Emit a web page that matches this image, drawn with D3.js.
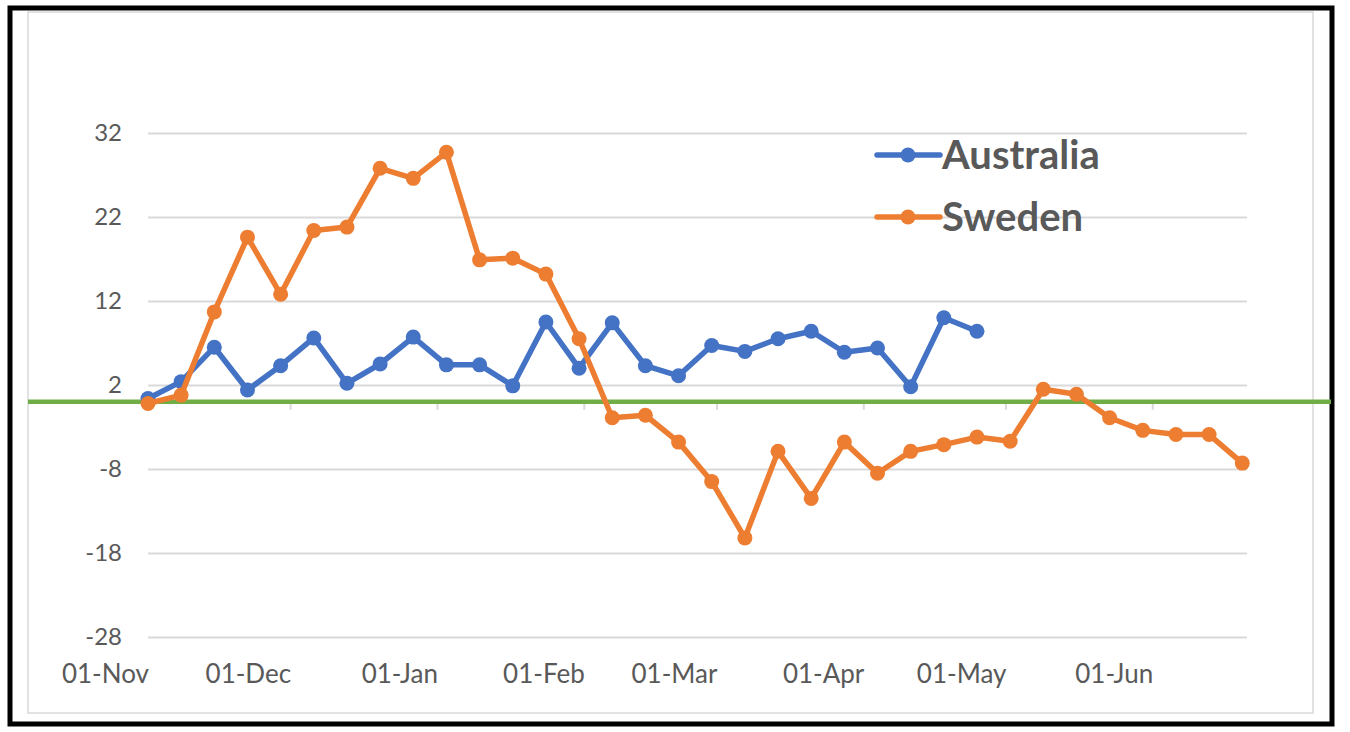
<!DOCTYPE html>
<html lang="en">
<head>
<meta charset="UTF-8">
<title>Australia vs Sweden</title>
<script src="https://d3js.org/d3.v7.min.js"></script>
<style>
    body { margin: 0; background: white; }
    svg { display: block; }
    .tick-label { font-family: Lato, "Open Sans", sans-serif; fill: #595959; }
    .legend text { font-family: Lato, "Open Sans", sans-serif; font-weight: bold; font-size: 40px; fill: #595959; }
</style>
</head>
<body>
<div id="container"></div>
<script>
// weekly dates
const dates = ["2020-11-01","2020-11-08","2020-11-15","2020-11-22","2020-11-29","2020-12-06","2020-12-13",
    "2020-12-20","2020-12-27","2021-01-03","2021-01-10","2021-01-17","2021-01-24","2021-01-31",
    "2021-02-07","2021-02-14","2021-02-21","2021-02-28","2021-03-07","2021-03-14","2021-03-21",
    "2021-03-28","2021-04-04","2021-04-11","2021-04-18","2021-04-25","2021-05-02","2021-05-09",
    "2021-05-16","2021-05-23","2021-05-30","2021-06-06","2021-06-13","2021-06-20"];

const australia = [0.4, 2.4, 6.5, 1.4, 4.3, 7.6, 2.2, 4.5, 7.7, 4.4, 4.4, 1.9, 9.5, 4.0,
    9.4, 4.3, 3.1, 6.7, 6.0, 7.5, 8.4, 5.9, 6.4, 1.8, 10.0, 8.4];

const sweden = [-0.2, 0.8, 10.7, 19.6, 12.8, 20.4, 20.8, 27.8, 26.6, 29.7, 16.9, 17.1, 15.2, 7.5,
    -1.9, -1.6, -4.8, -9.5, -16.2, -5.9, -11.5, -4.8, -8.5, -5.9, -5.1, -4.2, -4.7, 1.5,
    0.9, -1.9, -3.4, -3.9, -3.9, -7.3];

const yTicks = [-28, -18, -8, 2, 12, 22, 32];
const xTicks = ["2020-11-01","2020-12-01","2021-01-01","2021-02-01","2021-03-01","2021-04-01","2021-05-01","2021-06-01"];

const seriesNames = ["Australia", "Sweden"];
const colors = ["#4472C4", "#ED7D31"];

const width = 1350, height = 732;
const parse = d3.utcParse("%Y-%m-%d");
const fmt = d3.utcFormat("%d-%b");

const svg = d3.select("#container").append("svg")
    .attr("width", width)
    .attr("height", height);

// outer black frame and chart area border
svg.append("rect")
    .attr("x", 10).attr("y", 8).attr("width", 1322).attr("height", 716)
    .attr("fill", "white").attr("stroke", "black").attr("stroke-width", 5);
svg.append("rect")
    .attr("x", 28).attr("y", 12).attr("width", 1285).attr("height", 701)
    .attr("fill", "none").attr("stroke", "#d9d9d9").attr("stroke-width", 1.5);

// scales
const xScale = d3.scaleUtc()
    .domain([parse("2020-11-01"), parse("2021-06-21")])
    .range([148, 1247]);
const yScale = d3.scaleLinear()
    .domain([-28, 32])
    .range([637, 133]);

// gridlines + y labels
const yAxis = d3.axisLeft(yScale)
    .tickValues(yTicks)
    .tickSize(-(1247 - 148))
    .tickPadding(26)
    .tickFormat(d => String(d));
const gy = svg.append("g")
    .attr("transform", "translate(148,0)")
    .call(yAxis);
gy.select(".domain").remove();
gy.selectAll(".tick line").attr("stroke", "#d9d9d9").attr("stroke-width", 2);
gy.selectAll(".tick text")
    .attr("class", "tick-label")
    .style("font-size", "24px");

// x axis: tick marks below zero, labels at bottom right-aligned to tick
const xAxis = d3.axisBottom(xScale)
    .tickValues(xTicks.map(parse))
    .tickSize(8)
    .tickFormat("");
const gx = svg.append("g")
    .attr("transform", `translate(0,${yScale(0)})`)
    .call(xAxis);
gx.select(".domain").remove();
gx.selectAll(".tick line").attr("stroke", "#d9d9d9").attr("stroke-width", 2);

svg.append("g").selectAll("text")
    .data(xTicks.map(parse))
    .join("text")
    .attr("class", "tick-label")
    .attr("x", d => xScale(d) + 1)
    .attr("y", 683)
    .attr("text-anchor", "end")
    .style("font-size", "26px")
    .text(d => fmt(d));

// green zero line
svg.append("line")
    .attr("x1", 28).attr("x2", 1331)
    .attr("y1", yScale(0)).attr("y2", yScale(0))
    .attr("stroke", "#70AD47").attr("stroke-width", 4.5);

// series
const line = d3.line()
    .x((d, i) => xScale(parse(dates[i])))
    .y(d => yScale(d));

[australia, sweden].forEach((vals, k) => {
    const g = svg.append("g");
    g.append("path")
        .attr("d", line(vals))
        .attr("fill", "none")
        .attr("stroke", colors[k])
        .attr("stroke-width", 5.5)
        .attr("stroke-linejoin", "round");
    g.selectAll("circle")
        .data(vals)
        .join("circle")
        .attr("cx", (d, i) => xScale(parse(dates[i])))
        .attr("cy", d => yScale(d))
        .attr("r", 7.5)
        .attr("fill", colors[k]);
});

// legend
const legend = svg.append("g")
    .attr("class", "legend")
    .selectAll("g")
    .data(seriesNames)
    .join("g")
    .attr("transform", (d, i) => `translate(877,${155 + i * 62})`);
legend.append("line")
    .attr("x1", 0).attr("x2", 63)
    .attr("stroke", (d, i) => colors[i])
    .attr("stroke-width", 5.5)
    .attr("stroke-linecap", "round");
legend.append("circle")
    .attr("cx", 31).attr("r", 7.5)
    .attr("fill", (d, i) => colors[i]);
legend.append("text")
    .attr("x", 65)
    .attr("y", 14)
    .text(d => d);
</script>
</body>
</html>
